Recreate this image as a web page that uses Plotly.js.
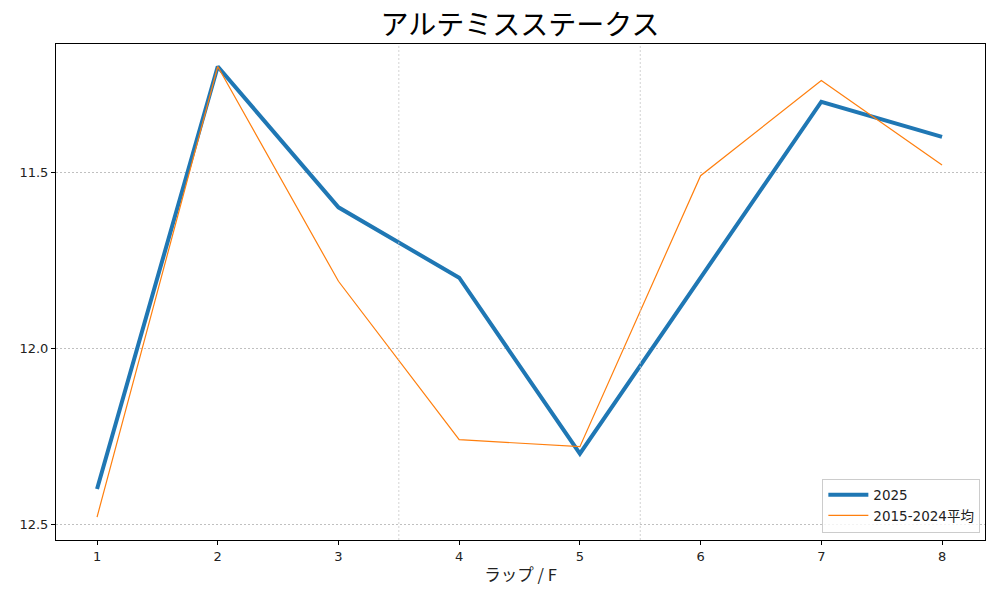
<!DOCTYPE html>
<html>
<head>
<meta charset="utf-8">
<script src="https://cdn.plot.ly/plotly-3.0.1.min.js"></script>
<style>
  body { margin: 0; background: #fff; }
  #chart { width: 1000px; height: 600px; }
</style>
</head>
<body>
<div id="chart"></div>
<script>
// lap numbers and lap times (seconds per furlong)
const laps = [1, 2, 3, 4, 5, 6, 7, 8];
const times2025 = [12.4, 11.2, 11.6, 11.8, 12.3, 11.8, 11.3, 11.4];
const timesAvg = [12.48, 11.2, 11.81, 12.26, 12.28, 11.51, 11.24, 11.48];
const yTicks = [11.5, 12.0, 12.5];
const sepLines = [3.5, 5.5];

const font = '"Noto Sans CJK JP", "DejaVu Sans", sans-serif';
const numFont = 'DejaVu Sans, Noto Sans CJK JP, sans-serif';

const traces = [
    {
        x: laps, y: times2025, name: '2025',
        type: 'scatter', mode: 'lines',
        line: { color: '#1f77b4', width: 4 }
    },
    {
        x: laps, y: timesAvg, name: '2015-2024平均',
        type: 'scatter', mode: 'lines',
        line: { color: '#ff7f0e', width: 1.2 }
    }
];

// dotted vertical separators
const shapes = sepLines.map(v => ({
    type: 'line', xref: 'x', yref: 'paper',
    x0: v, x1: v, y0: 0, y1: 1,
    line: { color: '#c8c8c8', width: 0.8, dash: '2px,2px' }
}));

const layout = {
    width: 1000, height: 600,
    paper_bgcolor: '#fff', plot_bgcolor: '#fff',
    margin: { l: 56, r: 15, t: 44, b: 60 },
    font: { family: font, size: 14, color: '#222' },
    title: { text: 'アルテミスステークス', font: { size: 28, color: '#000' }, x: 0.52, xanchor: 'center', y: 0.958, yanchor: 'middle' },
    xaxis: {
        range: [0.66, 8.356],
        tickvals: laps,
        tickfont: { family: numFont, size: 13 },
        ticks: 'outside', ticklen: 4, tickcolor: '#000',
        showgrid: false, zeroline: false,
        showline: true, mirror: true, linecolor: '#000', linewidth: 1,
        title: { text: 'ラップ / F', font: { size: 16.5 }, standoff: 6 }
    },
    yaxis: {
        range: [12.545, 11.136],
        tickvals: yTicks, tickformat: '.1f',
        tickfont: { family: numFont, size: 13 },
        ticks: 'outside', ticklen: 4, tickcolor: '#000',
        showgrid: true, gridcolor: '#c0c0c0', griddash: '2px,2px', gridwidth: 0.8,
        zeroline: false,
        showline: true, mirror: true, linecolor: '#000', linewidth: 1
    },
    shapes: shapes,
    legend: {
        x: 0.995, y: 0.015, xanchor: 'right', yanchor: 'bottom',
        bgcolor: 'rgba(255,255,255,0.8)', bordercolor: '#cccccc', borderwidth: 1,
        font: { family: numFont, size: 13.5 }, itemwidth: 40
    },
    showlegend: true
};

Plotly.newPlot('chart', traces, layout, { displayModeBar: false });
</script>
</body>
</html>
